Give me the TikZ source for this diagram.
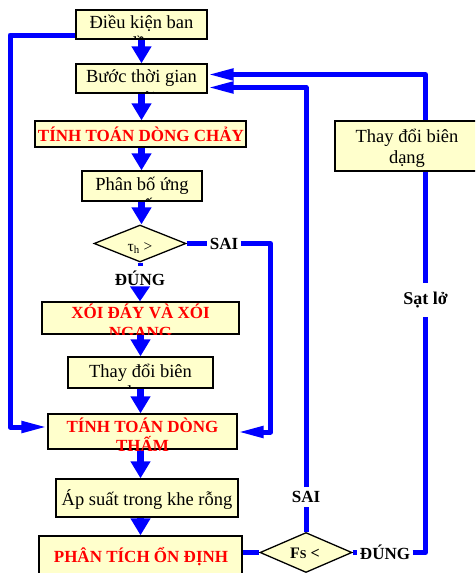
\documentclass[tikz,border=0pt]{standalone}
\usepackage{fontspec}
\setmainfont{Liberation Serif}
\usetikzlibrary{shapes.geometric,arrows.meta,calc,backgrounds}
\definecolor{boxyellow}{HTML}{FFFFCC}
\definecolor{flowblue}{HTML}{0000FF}
\definecolor{txtred}{HTML}{FF0000}
\tikzset{
  box/.style={draw=black, line width=1.3pt, fill=boxyellow, inner sep=0pt, rectangle},
  dia/.style={draw=black, line width=1.3pt, fill=boxyellow, inner sep=0pt, diamond},
  blktxt/.style={font=\fontsize{18.5}{20}\selectfont, inner sep=0pt, anchor=base},
  redtxt/.style={font=\bfseries\fontsize{17}{19}\selectfont, text=txtred, inner sep=0pt, anchor=base},
  lbl/.style={font=\bfseries\fontsize{17}{18}\selectfont, inner xsep=2.5pt, inner ysep=4pt},
  flow/.style={draw=flowblue, line width=5pt, line join=round},
  vflow/.style={draw=flowblue, line width=7pt, -{Triangle[width=19pt,length=17pt]}},
  hflow/.style={flow, -{Triangle[width=11pt,length=26pt]}}
}
\begin{document}
\begin{tikzpicture}[x=1pt,y=-1pt]
\useasboundingbox (0,0) rectangle (475,573);
\clip (0,0) rectangle (475,573);
% boxes
\node[box, minimum width=131pt, minimum height=29pt] (b1) at (141.5,24.5) {};
\node[box, minimum width=131pt, minimum height=29pt] (b2) at (141.5,78.5) {};
\node[box, minimum width=211pt, minimum height=26pt] (b3) at (140.5,134) {};
\node[box, minimum width=120pt, minimum height=30pt] (b4) at (142,186) {};
\node[dia, minimum width=92pt, minimum height=37pt] (d1) at (140,243.5) {};
\node[box, minimum width=197pt, minimum height=32pt] (b5) at (140.5,318) {};
\node[box, minimum width=145pt, minimum height=31pt] (b6) at (140.5,372.5) {};
\node[box, minimum width=189pt, minimum height=35pt] (b7) at (142.5,431.5) {};
\node[box, minimum width=182pt, minimum height=38pt] (b8) at (147,498) {};
\node[box, minimum width=203pt, minimum height=54pt] (b9) at (140.5,563) {};
\node[dia, minimum width=92pt, minimum height=40pt] (d2) at (306,552.5) {};
\node[box, minimum width=145pt, minimum height=50pt] (rb) at (407.5,146) {};
% texts
\begin{scope}
  \clip (b1.south west) rectangle (b1.north east);
  \node[blktxt] (t1a) at (141.5,28) {Điều kiện ban};
  \node[blktxt] (t1b) at (141.5,49.5) {đầu};
\end{scope}
\begin{scope}
  \clip (b2.south west) rectangle (b2.north east);
  \node[blktxt] (t2a) at (141.5,82.5) {Bước thời gian};
  \node[blktxt] (t2b) at (141.5,104) {mới};
\end{scope}
\node[redtxt] (t3) at (141,141) {TÍNH TOÁN DÒNG CHẢY};
\begin{scope}
  \clip (b4.south west) rectangle (b4.north east);
  \node[blktxt] (t4a) at (142,190) {Phân bố ứng};
  \node[blktxt] (t4b) at (142,211.5) {suất};
\end{scope}
\node[font=\fontsize{15.5}{16}\selectfont, inner sep=0pt, anchor=base] (td1) at (140,251) {τ\textsubscript{h} >};
\begin{scope}
  \clip (b5.south west) rectangle (b5.north east);
  \node[redtxt] (t5a) at (140.5,318) {XÓI ĐÁY VÀ XÓI};
  \node[redtxt] (t5b) at (140.5,338) {NGANG};
\end{scope}
\begin{scope}
  \clip (b6.south west) rectangle (b6.north east);
  \node[blktxt] (t6a) at (140.5,377) {Thay đổi biên};
  \node[blktxt] (t6b) at (140.5,398.5) {dạng};
\end{scope}
\begin{scope}
  \clip ([yshift=-1pt]b7.south west) rectangle (b7.north east);
  \node[redtxt] (t7a) at (142.5,432) {TÍNH TOÁN DÒNG};
  \node[redtxt] (t7b) at (142.5,451.5) {THẤM};
\end{scope}
\node[blktxt] (t8) at (147,505) {Áp suất trong khe rỗng};
\node[redtxt] (t9) at (141,562) {PHÂN TÍCH ỔN ĐỊNH};
\node[font=\bfseries\fontsize{16}{17}\selectfont, inner sep=0pt, anchor=base] (td2) at (305,558.5) {F{\fontsize{12}{12}\selectfont S} <};
\node[blktxt] (tra) at (407,142) {Thay đổi biên};
\node[blktxt] (trb) at (407,163) {dạng};
% labels
\node[lbl] (sai1) at (224,243.5) {SAI};
\node[lbl] (dung1) at (140,278) {ĐÚNG};
\node[lbl] (sai2) at (306,497) {SAI};
\node[lbl] (dung2) at (385,552.5) {ĐÚNG};
\node[lbl, inner ysep=9pt, font=\bfseries\fontsize{18}{19}\selectfont] (satlo) at (425.5,300) {Sạt lở};
% helper coordinates
\coordinate (lc1) at (10,35);
\coordinate (lc2) at (10,427);
\coordinate (s1a) at (270.5,243.5);
\coordinate (s1b) at (270.5,432);
% connectors
\begin{scope}[on background layer]
  \draw[vflow] (b1.south) -- (b2.north);
  \draw[vflow] (b2.south) -- (b2.south |- b3.north);
  \draw[vflow] (b3.south -| b2.south) -- (b2.south |- b4.north);
  \draw[vflow] (b4.south -| b2.south) -- (b2.south |- d1.north);
  \draw[flow] (d1.south) -- (dung1.north);
  \draw[flow, -{Triangle[width=19pt,length=15pt]}] (dung1.south) -- (dung1.south |- b5.north);
  \draw[vflow] (b5.south) -- (b6.north);
  \draw[vflow] (b6.south) -- (b6.south |- b7.north);
  \draw[vflow] (b7.south -| b6.south) -- (b6.south |- b8.north);
  \draw[vflow] (b8.south -| b9.north) -- (b9.north);
  % left loop
  \draw[hflow] ($(b1.west)+(0,10.5)$) -- (lc1) -- (lc2) -- (lc2 -| b7.west);
  % SAI from tau diamond
  \draw[flow] (d1.east) -- (sai1.west);
  \draw[hflow] (sai1.east) -- (s1a) -- (s1b) -- (s1b -| b7.east);
  % stability check
  \draw[flow] (b9.east |- d2.west) -- (d2.west);
  \draw[flow] (d2.north) -- (sai2.south);
  \draw[hflow] (sai2.north) |- ($(b2.east)+(0,9)$);
  \draw[flow] (d2.east) -- (dung2.west);
  \draw[flow] (dung2.east) -| (satlo.south);
  \draw[hflow] (satlo.north) |- ($(b2.east)+(0,-4)$);
\end{scope}
\end{tikzpicture}
\end{document}
